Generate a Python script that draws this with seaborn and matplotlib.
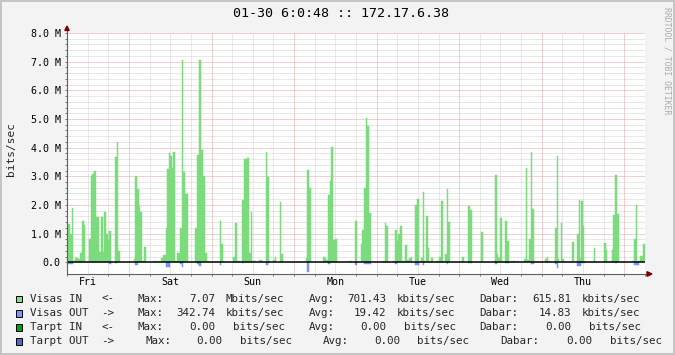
import numpy as np
import pandas as pd
import matplotlib
matplotlib.use("Agg")
import matplotlib.pyplot as plt
import seaborn as sns
from matplotlib.patches import Polygon, Rectangle
from matplotlib.lines import Line2D

# ---------------- data (hours since Fri 06:00, values in Mbit/s) ----------------
SPAN_H = 168
in_start = [0.0, 0.2, 0.9, 1.45, 1.74, 2.33, 3.1, 3.78, 4.36, 4.85, 5.32, 6.31, 6.98, 7.35, 7.85,
            8.43, 9.22, 9.88, 10.47, 10.67, 11.25, 11.83, 12.21, 12.79, 14.04, 14.45, 14.91, 15.41,
            19.48, 19.85, 20.35, 20.84, 21.31, 21.8, 22.38, 22.97, 25.38, 25.87, 26.37, 26.83, 27.33,
            27.91, 28.66, 29.2, 29.65, 30.03, 30.44, 30.9, 31.3, 32.06, 32.85, 33.43, 33.72, 34.39,
            35.09, 37.21, 37.79, 38.46, 38.95, 39.53, 40.03, 40.6, 44.39, 44.68, 45.26, 48.17, 48.75,
            49.33, 49.8, 50.29, 50.78, 51.45, 52.03, 52.41, 52.91, 53.4, 53.69, 54.85, 55.9, 56.6,
            57.06, 57.76, 58.14, 58.72, 59.1, 59.88, 60.38, 60.67, 61.92, 62.3, 62.79, 69.48, 69.77,
            70.35, 70.93, 71.31, 74.33, 75.0, 75.38, 75.87, 76.45, 76.74, 77.24, 77.91, 78.49, 81.89,
            82.47, 82.85, 83.63, 84.22, 85.38, 85.84, 86.25, 86.83, 87.12, 87.7, 88.37, 91.86, 92.44,
            92.82, 93.23, 93.9, 94.68, 95.35, 95.84, 96.22, 96.8, 97.38, 98.17, 98.84, 99.42, 100.0,
            100.38, 101.25, 101.83, 102.33, 102.82, 103.4, 103.69, 104.27, 104.94, 105.23, 105.73,
            106.4, 107.27, 107.85, 108.23, 108.72, 109.3, 109.88, 110.47, 110.76, 111.34, 114.74,
            115.41, 116.66, 117.15, 117.65, 120.26, 120.93, 124.13, 124.33, 124.91, 125.38, 125.87,
            126.37, 127.24, 127.82, 128.49, 129.74, 130.23, 130.73, 131.19, 132.76, 133.43, 133.72,
            134.22, 134.8, 135.17, 135.76, 138.95, 139.45, 139.91, 140.41, 141.66, 141.86, 142.36,
            142.65, 143.11, 143.69, 143.98, 144.56, 146.71, 147.38, 148.17, 148.75, 149.04, 149.42,
            149.91, 150.38, 153.29, 153.58, 156.19, 156.69, 157.06, 157.85, 158.34, 158.63, 159.3,
            159.88, 160.47, 162.5, 162.88, 164.16, 164.83, 165.32, 165.79, 166.66, 167.35]
in_value = [0.0, 1.32, 1.0, 1.89, 0.05, 0.16, 0.1, 0.32, 1.44, 1.3, 0.02, 0.81, 3.0, 3.08, 3.18,
            1.57, 0.37, 1.59, 0.37, 1.75, 1.0, 0.77, 1.09, 0.02, 3.66, 4.19, 0.39, 0.0,
            0.1, 3.01, 2.55, 1.96, 1.76, 0.05, 0.54, 0.0, 0.05, 0.0, 0.06, 0.0, 0.15,
            0.25, 1.2, 3.25, 3.8, 3.7, 3.3, 3.83, 0.04, 0.34, 1.19, 7.07, 3.14, 2.38,
            0.02, 1.2, 3.75, 7.07, 3.93, 3.0, 0.33, 0.02, 1.43, 0.64, 0.0, 0.17, 1.37,
            0.02, 0.04, 0.0, 2.18, 3.62, 3.6, 3.63, 0.33, 1.75, 0.03, 0.0, 0.07, 0.03,
            0.0, 3.83, 2.98, 0.03, 0.0, 0.07, 0.2, 0.0, 2.1, 0.28, 0.0, 0.15, 3.21,
            2.58, 0.02, 0.0, 0.18, 0.15, 0.08, 2.34, 2.83, 4.01, 0.76, 0.81, 0.0, 0.06,
            0.03, 0.0, 1.43, 0.02, 0.63, 1.12, 2.6, 5.04, 4.76, 1.72, 0.0, 0.06, 1.37,
            1.28, 0.02, 0.0, 0.04, 1.12, 0.75, 1.0, 1.27, 0.04, 0.6, 0.07, 0.15, 0.18,
            0.02, 2.0, 2.2, 0.02, 0.15, 2.45, 0.03, 1.63, 0.5, 0.02, 0.15,
            0.0, 0.03, 0.0, 0.2, 2.15, 0.02, 0.28, 2.55, 1.4, 0.0, 0.18,
            0.0, 1.95, 1.84, 0.0, 1.07, 0.0, 0.06, 3.06, 0.3, 0.14, 1.53,
            0.02, 1.45, 0.74, 0.01, 0.05, 0.0, 0.03, 0.0, 0.12, 3.3, 0.08,
            0.8, 3.85, 1.87, 0.01, 0.1, 0.18, 0.03, 0.0, 0.05, 1.2, 3.7,
            0.1, 0.02, 1.38, 0.1, 0.01, 0.7, 0.0, 1.0, 2.17, 0.14, 2.13,
            1.25, 0.01, 0.5, 0.0, 0.66, 0.42, 0.01, 0.04, 0.42, 1.65, 3.05,
            1.68, 0.01, 0.02, 0.0, 0.03, 0.81, 2.0, 0.05, 0.22, 0.65]

out_start = [0.29, 12.12, 14.04, 19.77, 28.78, 32.85, 33.43, 37.88, 38.37, 44.39, 50.78, 57.76,
             58.43, 69.68, 75.87, 83.63, 86.25, 95.35, 101.25, 103.4, 110.47, 116.66, 124.33,
             127.24, 134.8, 141.86, 142.36, 148.17, 149.42, 159.3, 164.83]
out_end = [1.74, 12.7, 14.62, 20.64, 29.94, 33.43, 33.72, 38.37, 38.87, 44.68, 51.45, 58.43,
           58.72, 70.44, 76.45, 84.3, 88.37, 95.84, 102.41, 103.69, 110.76, 117.65, 124.91,
           128.49, 135.76, 142.36, 142.65, 149.42, 150.67, 159.88, 166.19]
out_value = [0.05, 0.05, 0.04, 0.08, 0.15, 0.06, 0.16, 0.05, 0.13, 0.08, 0.04, 0.08,
             0.04, 0.33, 0.05, 0.09, 0.07, 0.07, 0.11, 0.08, 0.05, 0.04, 0.05,
             0.04, 0.07, 0.05, 0.2, 0.12, 0.04, 0.04, 0.09]

day_labels = ["Fri", "Sat", "Sun", "Mon", "Tue", "Wed", "Thu"]
day_label_hours = [6, 30, 54, 78, 102, 126, 150]
midnight_hours = [18, 42, 66, 90, 114, 138, 162]
y_ticks = [0, 1, 2, 3, 4, 5, 6, 7, 8]
y_tick_labels = ["0.0", "1.0 M", "2.0 M", "3.0 M", "4.0 M", "5.0 M", "6.0 M", "7.0 M", "8.0 M"]

title = "01-30 6:0:48 :: 172.17.6.38"
y_label = "bits/sec"
watermark = "RRDTOOL / TOBI OETIKER"

legend_labels = ["Visas IN", "Visas OUT", "Tarpt IN", "Tarpt OUT"]
legend_arrows = ["<-", "->", "<-", "->"]
legend_colors = ["#80E080", "#8090FF", "#00A000", "#5068C8"]
max_vals = ["7.07", "342.74", "0.00", "0.00"]
max_units = ["Mbits/sec", "kbits/sec", "bits/sec", "bits/sec"]
avg_vals = ["701.43", "19.42", "0.00", "0.00"]
avg_units = ["kbits/sec", "kbits/sec", "bits/sec", "bits/sec"]
cur_vals = ["615.81", "14.83", "0.00", "0.00"]
cur_units = ["kbits/sec", "kbits/sec", "bits/sec", "bits/sec"]

# ---------------- style ----------------
sns.set_theme(style="white")
plt.rcParams['font.family'] = ['DejaVu Sans Mono', 'DejaVu Sans']
IN_COLOR = "#7CDB7C"
OUT_COLOR = "#7F8FFF"
MINOR_GRID = "#D2D2D2"
MAJOR_GRID = "#E5A3A3"
AXIS_COLOR = "#606060"
ARROW_COLOR = "#7F0000"

W, H = 675, 355
L, R, T, B = 67, 645, 33, 274
YMIN, YMAX = -0.41, 8.0

fig = plt.figure(figsize=(W / 100, H / 100), dpi=100, facecolor="#F3F3F3")
ax = fig.add_axes([L / W, 1 - B / H, (R - L) / W, (B - T) / H])
ax.set_facecolor("white")

# bars via seaborn histplot (one bin per step segment)
df_in = pd.DataFrame({"start": np.array(in_start, dtype=float),
                      "value": np.array(in_value, dtype=float)})
in_edges = [float(e) for e in in_start] + [float(SPAN_H)]
sns.histplot(data=df_in, x="start", weights="value", bins=in_edges, element="bars", fill=True,
             color=IN_COLOR, alpha=1, linewidth=0.35, edgecolor=IN_COLOR, ax=ax, zorder=3)
df_out = pd.DataFrame({"start": np.array(out_start, dtype=float),
                       "value": -np.array(out_value, dtype=float)})
out_edges = [float(e) for e in np.unique(np.concatenate([[0.0], out_start, out_end, [SPAN_H]]))]
sns.histplot(data=df_out, x="start", weights="value", bins=out_edges, element="bars",
             fill=True, color=OUT_COLOR, alpha=1, linewidth=0.35, edgecolor=OUT_COLOR, ax=ax,
             zorder=3)
# hide edges of zero-height bins
for p in ax.patches:
    if abs(p.get_height()) < 1e-9:
        p.set_visible(False)

ax.set_xlim(0, SPAN_H)
ax.set_ylim(YMIN, YMAX)
ax.set_xlabel("")
ax.set_ylabel("")

# grid
dots = (0, (1.0, 1.0))
for v in np.arange(0.2, 8.001, 0.2):
    major = abs(v - round(v)) < 1e-6
    ax.axhline(v, color=MAJOR_GRID if major else MINOR_GRID, lw=0.72, ls=dots, zorder=1)
for h in range(6, SPAN_H + 1, 6):
    major = h in midnight_hours
    ax.axvline(h, color=MAJOR_GRID if major else MINOR_GRID, lw=0.72, ls=dots, zorder=1)
ax.axhline(0, color="black", lw=1.1, zorder=5)

# spines / ticks
for s in ["top", "right", "left", "bottom"]:
    ax.spines[s].set_visible(False)
ax.add_line(Line2D([0, 0], [0, 1 + 4 / (B - T)], transform=ax.transAxes, color=AXIS_COLOR,
                   lw=0.8, clip_on=False, zorder=6))
ax.add_line(Line2D([0, 1 + 2 / (R - L)], [0, 0], transform=ax.transAxes, color=AXIS_COLOR,
                   lw=0.8, clip_on=False, zorder=6))
ax.add_patch(Polygon([[0, 1 + 7 / (B - T)], [-2.2 / (R - L), 1 + 2.5 / (B - T)],
                      [2.2 / (R - L), 1 + 2.5 / (B - T)]], closed=True, transform=ax.transAxes,
                     color=ARROW_COLOR, clip_on=False, zorder=7))
ax.add_patch(Polygon([[1 + 7 / (R - L), 0], [1 + 2 / (R - L), 2.3 / (B - T)],
                      [1 + 2 / (R - L), -2.3 / (B - T)]], closed=True, transform=ax.transAxes,
                     color=ARROW_COLOR, clip_on=False, zorder=7))

ax.set_yticks(y_ticks)
ax.set_yticklabels(y_tick_labels)
ax.set_yticks(np.arange(0, 8.001, 0.2), minor=True)
ax.tick_params(axis="y", which="both", direction="out", length=1.6, width=0.6, color=AXIS_COLOR,
               pad=3, labelsize=7.2, labelcolor="black", left=True)
ax.set_xticks(day_label_hours)
ax.set_xticklabels(day_labels)
ax.set_xticks(list(range(0, SPAN_H + 1, 6)), minor=True)
ax.tick_params(axis="x", which="major", length=0, pad=2.5, labelsize=7.2, labelcolor="black")
ax.tick_params(axis="x", which="minor", direction="out", length=1.6, width=0.6,
               color=AXIS_COLOR, bottom=True)
ax.grid(False)

# texts
fig.text(341 / W, 1 - 13.5 / H, title, fontsize=9.6, ha="center", va="center", color="black")
fig.text(11 / W, 1 - 148.5 / H, y_label, fontsize=8, rotation=90, ha="center", va="center")
fig.text(667 / W, 1 - 60.5 / H, watermark, fontsize=5.9, rotation=270, ha="center",
         va="center", color="#AAAAAA")

# legend
row_y = [299, 313.3, 327.3, 341.3]
LFS = 7.8
for i in range(4):
    yy = 1 - row_y[i] / H
    fig.add_artist(Rectangle((15.7 / W, 1 - (row_y[i] + 3.4) / H), 6.6 / W, 6.8 / H,
                             transform=fig.transFigure, facecolor=legend_colors[i],
                             edgecolor="black", lw=0.7))
    shift = [7.5, 14.0, 21.5] if i == 3 else [0, 0, 0]
    fig.text(30 / W, yy, legend_labels[i], fontsize=LFS, ha="left", va="center")
    fig.text(101.5 / W, yy, legend_arrows[i], fontsize=LFS, ha="left", va="center")
    fig.text((138 + shift[0]) / W, yy, "Max:", fontsize=LFS, ha="left", va="center")
    fig.text((215 + shift[0]) / W, yy, max_vals[i], fontsize=LFS, ha="right", va="center")
    fig.text((284.5 + shift[0]) / W, yy, max_units[i], fontsize=LFS, ha="right", va="center")
    fig.text((309 + shift[1]) / W, yy, "Avg:", fontsize=LFS, ha="left", va="center")
    fig.text((386.5 + shift[1]) / W, yy, avg_vals[i], fontsize=LFS, ha="right", va="center")
    fig.text((455.5 + shift[1]) / W, yy, avg_units[i], fontsize=LFS, ha="right", va="center")
    fig.text((479 + shift[2]) / W, yy, "Dabar:", fontsize=LFS, ha="left", va="center")
    fig.text((571 + shift[2]) / W, yy, cur_vals[i], fontsize=LFS, ha="right", va="center")
    fig.text((640.5 + shift[2]) / W, yy, cur_units[i], fontsize=LFS, ha="right", va="center")

# outer frame
fig.add_artist(Rectangle((0, 0), 1, 1, transform=fig.transFigure, fill=False,
                         edgecolor="#C4C4C4", lw=2.8))

fig.savefig("out.png", dpi=100, facecolor=fig.get_facecolor())
